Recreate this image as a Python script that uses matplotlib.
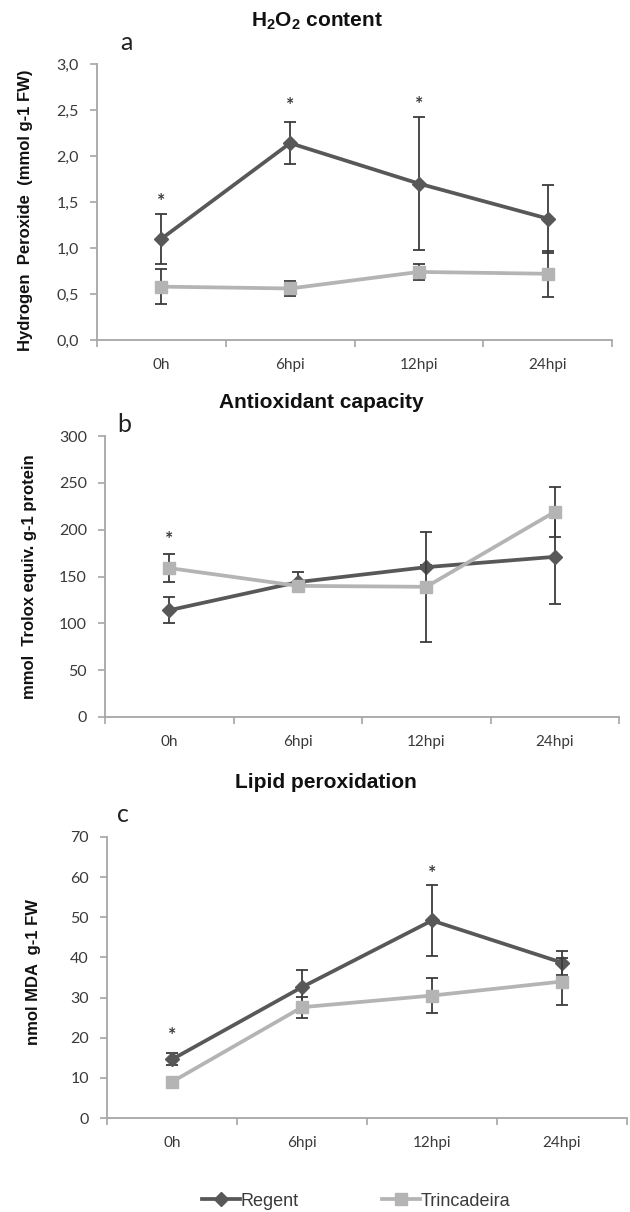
import matplotlib
matplotlib.use("Agg")
import matplotlib.pyplot as plt
from matplotlib.ticker import FixedLocator, NullFormatter

plt.rcParams['font.family'] = ['Liberation Sans', 'DejaVu Sans']
plt.rcParams['mathtext.fontset'] = 'custom'
plt.rcParams['mathtext.rm'] = 'Liberation Sans'
plt.rcParams['mathtext.bf'] = 'Liberation Sans:bold'

# ---------------- data ----------------
categories = ["0h", "6hpi", "12hpi", "24hpi"]

# Panel a: H2O2 content
h2o2_regent = [1.10, 2.14, 1.70, 1.32]
h2o2_regent_err = [0.27, 0.23, 0.72, 0.37]
h2o2_trinc = [0.58, 0.56, 0.74, 0.72]
h2o2_trinc_err = [0.19, 0.08, 0.09, 0.25]
h2o2_star_x = [0, 1, 2]
h2o2_star_y = [1.51, 2.55, 2.56]
h2o2_yticks = [0.0, 0.5, 1.0, 1.5, 2.0, 2.5, 3.0]
h2o2_yticklabels = ["0,0", "0,5", "1,0", "1,5", "2,0", "2,5", "3,0"]

# Panel b: Antioxidant capacity
anti_regent = [114, 144, 160, 171]
anti_regent_err = [14, 11, 2, 50]
anti_trinc = [159, 140, 139, 219]
anti_trinc_err = [15, 3, 59, 27]
anti_star_x = [0]
anti_star_y = [189]
anti_yticks = [0, 50, 100, 150, 200, 250, 300]
anti_yticklabels = ["0", "50", "100", "150", "200", "250", "300"]

# Panel c: Lipid peroxidation
lipid_regent = [14.6, 32.6, 49.2, 38.7]
lipid_regent_err = [1.5, 4.2, 8.8, 3.0]
lipid_trinc = [9.0, 27.6, 30.5, 34.0]
lipid_trinc_err = [1.0, 2.6, 4.3, 5.8]
lipid_star_x = [0, 2]
lipid_star_y = [20.5, 61.0]
lipid_yticks = [0, 10, 20, 30, 40, 50, 60, 70]
lipid_yticklabels = ["0", "10", "20", "30", "40", "50", "60", "70"]

series_names = ["Regent", "Trincadeira"]

# ---------------- style ----------------
W, H = 630, 1212
fig = plt.figure(figsize=(W / 100, H / 100), dpi=100)

C_REG = "#585858"
C_TRI = "#b4b4b4"
C_ERR = "#3c3c3c"
C_AX = "#a6a6a6"
C_TXT = "#3a3a3a"


def px_axes(left, right, top, bottom):
    return fig.add_axes([left / W, 1 - bottom / H, (right - left) / W, (bottom - top) / H])


panels = [
    dict(box=(97, 612, 64, 340), reg=h2o2_regent, rege=h2o2_regent_err,
         tri=h2o2_trinc, trie=h2o2_trinc_err, sx=h2o2_star_x, sy=h2o2_star_y,
         yt=h2o2_yticks, ytl=h2o2_yticklabels, ylim=(0, 3.0),
         ylabel="Hydrogen  Peroxide  (mmol g-1 FW)", ylc=(-0.124, 0.47),
         title=r"$\mathbf{H_2O_2}$ content", tpos=(317, 21), letter="a", lpos=(126, 43)),
    dict(box=(105, 619, 436, 717), reg=anti_regent, rege=anti_regent_err,
         tri=anti_trinc, trie=anti_trinc_err, sx=anti_star_x, sy=anti_star_y,
         yt=anti_yticks, ytl=anti_yticklabels, ylim=(0, 300),
         ylabel="mmol  Trolox equiv. g-1 protein", ylc=(-0.132, 0.50),
         title="Antioxidant capacity", tpos=(321, 402), letter="b", lpos=(124, 425)),
    dict(box=(107, 627, 837, 1118), reg=lipid_regent, rege=lipid_regent_err,
         tri=lipid_trinc, trie=lipid_trinc_err, sx=lipid_star_x, sy=lipid_star_y,
         yt=lipid_yticks, ytl=lipid_yticklabels, ylim=(0, 70),
         ylabel="nmol MDA  g-1 FW", ylc=(-0.127, 0.52),
         title="Lipid peroxidation", tpos=(326, 783), letter="c", lpos=(123, 815)),
]

handles = []
for p in panels:
    ax = px_axes(*p["box"])
    x = list(range(len(categories)))
    eb1 = ax.errorbar(x, p["reg"], yerr=p["rege"], color=C_REG, lw=2.7,
                      marker="D", ms=7.5, mfc=C_REG, mec=C_REG,
                      ecolor=C_ERR, elinewidth=1.3, capsize=4, capthick=1.3, zorder=3)
    eb2 = ax.errorbar(x, p["tri"], yerr=p["trie"], color=C_TRI, lw=2.7,
                      marker="s", ms=9, mfc=C_TRI, mec=C_TRI,
                      ecolor=C_ERR, elinewidth=1.3, capsize=4, capthick=1.3, zorder=4)
    if not handles:
        handles = [eb1.lines[0], eb2.lines[0]]
    for sx, sy in zip(p["sx"], p["sy"]):
        ax.text(sx, sy, "*", ha="center", va="center", fontsize=14, color=C_TXT,
                family="Lato", fontweight="bold")

    ax.set_xlim(-0.5, len(categories) - 0.5)
    ax.set_ylim(*p["ylim"])
    ax.set_xticks(x)
    ax.set_xticklabels(categories, family="Lato", fontsize=11, color=C_TXT)
    ax.tick_params(axis="x", which="major", length=0, pad=13)
    ax.xaxis.set_minor_locator(FixedLocator([i - 0.5 for i in range(len(categories) + 1)]))
    ax.xaxis.set_minor_formatter(NullFormatter())
    ax.tick_params(axis="x", which="minor", length=5, width=1.2, color=C_AX, direction="out")
    ax.set_yticks(p["yt"])
    ax.set_yticklabels(p["ytl"], family="Lato", fontsize=11.5, color=C_TXT)
    ax.tick_params(axis="y", length=5, width=1.2, color=C_AX, direction="out", pad=8)
    for s in ("top", "right"):
        ax.spines[s].set_visible(False)
    for s in ("left", "bottom"):
        ax.spines[s].set_color(C_AX)
        ax.spines[s].set_linewidth(1.3)
    ax.set_ylabel(p["ylabel"], fontsize=12, fontweight="bold", color="#111111")
    ax.yaxis.set_label_coords(*p["ylc"])

    fig.text(p["tpos"][0] / W, 1 - p["tpos"][1] / H, p["title"], ha="center", va="center",
             fontsize=15, fontweight="bold", color="#111111")
    fig.text(p["lpos"][0] / W, 1 - p["lpos"][1] / H, p["letter"], ha="center", va="center",
             fontsize=18, color="#222222", family="Lato")

fig.legend(handles, series_names, loc="center", bbox_to_anchor=(356 / W, 1 - 1201 / H),
           ncol=2, frameon=False, handlelength=2.1, handletextpad=0.05, columnspacing=4.6,
           prop=dict(family="Liberation Sans", size=13), labelcolor=C_TXT)

fig.savefig("out.png", dpi=100)
